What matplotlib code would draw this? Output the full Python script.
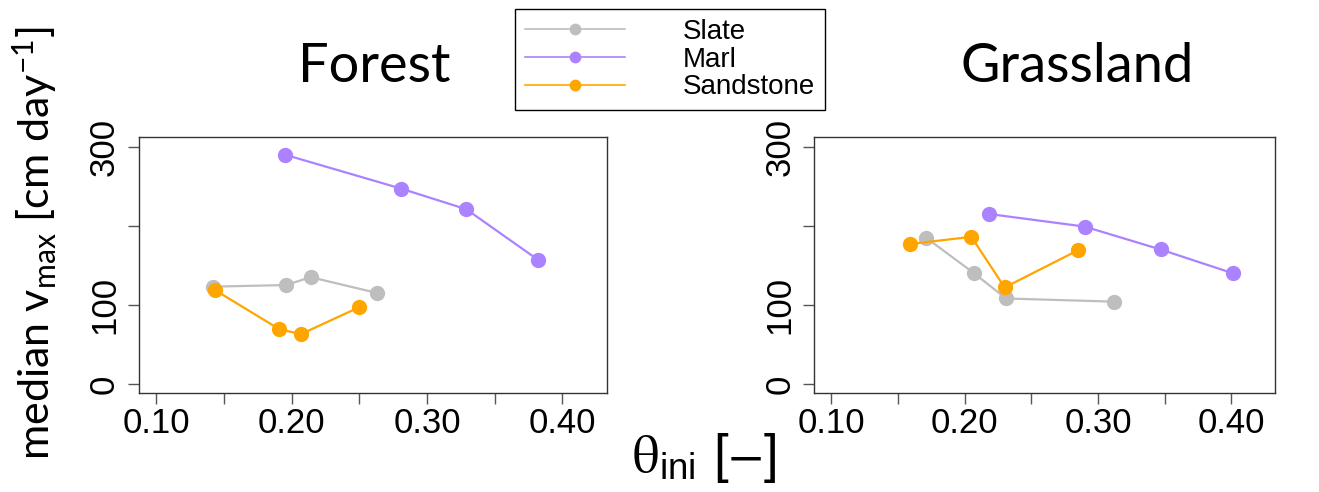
import matplotlib
matplotlib.use("Agg")
import matplotlib.pyplot as plt
from matplotlib import font_manager
from matplotlib.lines import Line2D

# forest
forest_slate_x = [0.142, 0.196, 0.214, 0.263]
forest_slate_y = [123, 125, 135, 115]
forest_marl_x = [0.195, 0.281, 0.329, 0.382]
forest_marl_y = [290, 247, 221, 157]
forest_sand_x = [0.143, 0.191, 0.207, 0.250]
forest_sand_y = [119, 69, 63, 97]

# grassland
grass_slate_x = [0.171, 0.207, 0.231, 0.312]
grass_slate_y = [185, 140, 108, 104]
grass_marl_x = [0.218, 0.290, 0.347, 0.401]
grass_marl_y = [215, 199, 170, 140]
grass_sand_x = [0.159, 0.205, 0.230, 0.285]
grass_sand_y = [177, 186, 122, 169]

rocas = ["Slate", "Marl", "Sandstone"]
cores = ["#BEBEBE", "#AB82FF", "#FFA500"]

xticks = [0.10, 0.15, 0.20, 0.25, 0.30, 0.35, 0.40]
xticklabels = ["0.10", "", "0.20", "", "0.30", "", "0.40"]
yticks = [0, 100, 200, 300]
yticklabels = ["0", "100", "", "300"]

nomes = {f.name for f in font_manager.fontManager.ttflist}
narrow = "Liberation Sans Narrow" if "Liberation Sans Narrow" in nomes else "Liberation Sans"
titulo_font = "Lato" if "Lato" in nomes else "DejaVu Sans"

plt.rcParams["mathtext.fontset"] = "custom"
plt.rcParams["mathtext.rm"] = titulo_font
plt.rcParams["mathtext.sf"] = titulo_font
plt.rcParams["mathtext.it"] = titulo_font + ":italic"

W, H = 1319, 492
fig = plt.figure(figsize=(W / 100, H / 100), dpi=100)

ax1 = fig.add_axes([139 / W, 1 - 393.3 / H, (606.7 - 139) / W, 256 / H])
ax2 = fig.add_axes([814.3 / W, 1 - 393.3 / H, (1275 - 814.3) / W, 256 / H])

dados = [
    (ax1, [(forest_slate_x, forest_slate_y), (forest_marl_x, forest_marl_y), (forest_sand_x, forest_sand_y)]),
    (ax2, [(grass_slate_x, grass_slate_y), (grass_marl_x, grass_marl_y), (grass_sand_x, grass_sand_y)]),
]

for ax, series in dados:
    for (xs, ys), cor in zip(series, cores):
        ax.plot(xs, ys, color=cor, lw=1.6, marker="o", markersize=11, markeredgewidth=0)
    ax.set_xlim(0.0872, 0.4328)
    ax.set_ylim(-12, 312)
    ax.set_xticks(xticks)
    ax.set_xticklabels(xticklabels)
    ax.set_yticks(yticks)
    ax.set_yticklabels(yticklabels, rotation=90, va="center")
    ax.tick_params(length=8, width=1, color="#555555", labelsize=25, pad=2)
    ax.tick_params(axis="y", pad=5)
    for lab in ax.get_xticklabels() + ax.get_yticklabels():
        lab.set_family(narrow)
    for s in ax.spines.values():
        s.set_color("#333333")
        s.set_linewidth(1)

fig.text(374 / W, 1 - 82 / H, "Forest", ha="center", va="baseline", fontsize=39, family=titulo_font)
fig.text(1077 / W, 1 - 82 / H, "Grassland", ha="center", va="baseline", fontsize=39, family=titulo_font)

fig.text(35 / W, 0.505, r"median v$_{\mathrm{max}}$ [cm day$^{\mathrm{-1}}$]", rotation=90,
         ha="center", va="center", fontsize=31, family=titulo_font)

fig.text(704 / W, 1 - 472 / H, r"$\mathrm{\theta}_{\mathregular{ini}}$ [$-$]", ha="center", va="baseline",
         fontsize=38, family=narrow, math_fontfamily="stix")

legendas = [Line2D([0], [0], color=c, lw=1.2, marker="o", markersize=8.5, markeredgewidth=0) for c in cores]
leg = fig.legend(legendas, rocas, loc="upper left", bbox_to_anchor=(515 / W, 1 - 9.3 / H),
                 prop={"family": "Liberation Sans", "size": 20},
                 handlelength=3.6, handletextpad=2.1, labelspacing=0.06, borderpad=0.35,
                 fancybox=False, framealpha=1, edgecolor="black", borderaxespad=0)
leg.get_frame().set_linewidth(1)

fig.savefig("out.png", dpi=100)
